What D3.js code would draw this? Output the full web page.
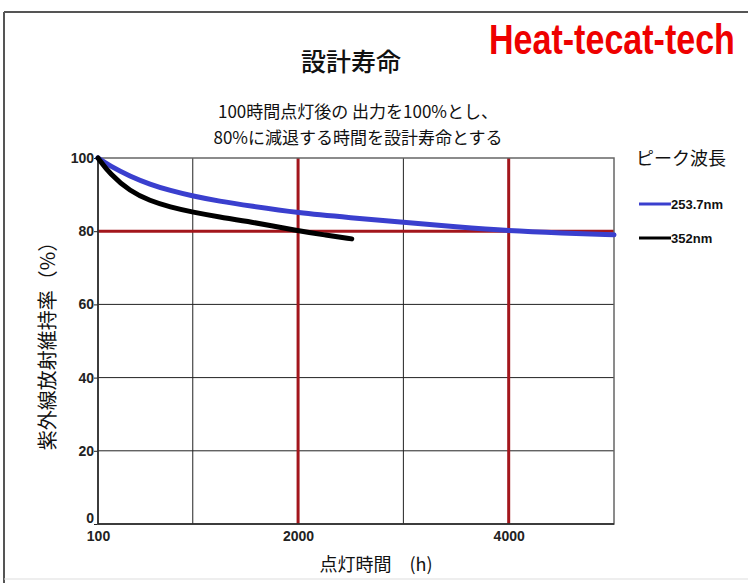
<!DOCTYPE html>
<html><head><meta charset="utf-8">
<script src="https://cdn.jsdelivr.net/npm/d3@7"></script>
<style>body{margin:0;background:#fff;}svg{display:block;}</style>
</head><body>
<svg id="c" width="748" height="583"></svg>
<script>
const hours253 = [100, 214, 404, 594, 784, 1000, 1250, 1543, 2000, 2500, 3000, 3500, 4000, 4500, 5000];
const values253 = [100, 97.8, 95.0, 92.8, 91.1, 89.6, 88.2, 86.9, 85.0, 83.7, 82.4, 81.2, 80.1, 79.5, 79.0];
const hours352 = [100, 214, 404, 594, 784, 1000, 1250, 1543, 2000, 2250, 2510];
const values352 = [100, 95.6, 90.9, 88.3, 86.6, 85.2, 83.9, 82.6, 80.1, 79.0, 77.9];
const seriesNames = ["253.7nm", "352nm"];
const xTicks = [100, 2000, 4000];
const xGrid = [1000, 2000, 3000, 4000];
const xRedGrid = [2000, 4000];
const yTicks = [0, 20, 40, 60, 80, 100];
const yRed = [80];

const svg = d3.select("#c");
const L = 98, R = 614, T = 158, B = 524;
const x = d3.scaleLinear().domain([100, 5000]).range([L, R]);
const y = d3.scaleLinear().domain([0, 100]).range([B, T]);
const jp = "'Noto Sans CJK JP', sans-serif";
const num = "'Liberation Sans', Arial, sans-serif";

// outer frame
svg.append("line").attr("x1",4).attr("x2",4).attr("y1",12).attr("y2",583).attr("stroke","#555").attr("stroke-width",2);
svg.append("line").attr("x1",4).attr("x2",748).attr("y1",12).attr("y2",12).attr("stroke","#555").attr("stroke-width",2);
svg.append("line").attr("x1",4).attr("x2",748).attr("y1",579).attr("y2",579).attr("stroke","#ddd").attr("stroke-width",1);

// logo (condensed via horizontal scale)
const logo = svg.append("text").attr("x",0).attr("y",0)
  .attr("font-family","'Liberation Sans', Arial, sans-serif").attr("font-weight","bold")
  .attr("font-size",42).attr("fill","#ee0000").text("Heat-tecat-tech");
const lw = logo.node().getComputedTextLength();
logo.attr("transform",`translate(489,54) scale(${246/lw},1)`);

// titles
svg.append("text").attr("x",351).attr("y",71).attr("text-anchor","middle").attr("font-family",jp)
  .attr("font-size",25).attr("font-weight",500).attr("fill","#111").text("設計寿命");
svg.append("text").attr("x",358).attr("y",118).attr("text-anchor","middle").attr("font-family",jp)
  .attr("font-size",17).attr("fill","#111").text("100時間点灯後の 出力を100%とし、");
svg.append("text").attr("x",358).attr("y",144).attr("text-anchor","middle").attr("font-family",jp)
  .attr("font-size",17).attr("fill","#111").text("80%に減退する時間を設計寿命とする");

// grid
const g = svg.append("g");
g.selectAll(".hg").data(yTicks.filter(v => v > 0 && v < 100 && !yRed.includes(v))).enter().append("line")
  .attr("x1",L).attr("x2",R).attr("y1",d=>y(d)).attr("y2",d=>y(d)).attr("stroke","#222").attr("stroke-width",1);
g.selectAll(".vg").data(xGrid.filter(v => !xRedGrid.includes(v))).enter().append("line")
  .attr("x1",d=>x(d)).attr("x2",d=>x(d)).attr("y1",T).attr("y2",B).attr("stroke","#222").attr("stroke-width",1);

// axes
const yAxis = d3.axisLeft(y).tickValues(yTicks).tickSize(4).tickFormat(d3.format("d"));
const ya = svg.append("g").attr("transform",`translate(${L},0)`).call(yAxis);
ya.select(".domain").remove();
ya.selectAll("line").attr("stroke","#222");
ya.selectAll("text").attr("font-family",num).attr("font-weight","bold").attr("font-size",14).attr("fill","#222").attr("x",-4);
ya.selectAll(".tick").filter(d=>d===0).select("text").attr("dy","-0.1em");

const xAxis = d3.axisBottom(x).tickValues(xTicks).tickSize(0).tickFormat(d3.format("d"));
const xa = svg.append("g").attr("transform",`translate(0,${B})`).call(xAxis);
xa.select(".domain").remove();
xa.selectAll("text").attr("font-family",num).attr("font-weight","bold").attr("font-size",14).attr("fill","#222").attr("dy","1.0em");

// red reference lines
svg.selectAll(".rv").data(xRedGrid).enter().append("line")
  .attr("x1",d=>x(d)).attr("x2",d=>x(d)).attr("y1",T).attr("y2",B).attr("stroke","#a3161c").attr("stroke-width",3);
svg.selectAll(".rh").data(yRed).enter().append("line")
  .attr("x1",L).attr("x2",R).attr("y1",d=>y(d)).attr("y2",d=>y(d)).attr("stroke","#a3161c").attr("stroke-width",3);

// plot border
svg.append("rect").attr("x",L).attr("y",T).attr("width",R-L).attr("height",B-T)
  .attr("fill","none").attr("stroke","#666").attr("stroke-width",1.5);
svg.append("line").attr("x1",L).attr("x2",L).attr("y1",T).attr("y2",B).attr("stroke","#222").attr("stroke-width",1.5);
svg.append("line").attr("x1",L).attr("x2",R).attr("y1",B).attr("y2",B).attr("stroke","#222").attr("stroke-width",1.5);

// curves
const line = d3.line().x(d=>x(d[0])).y(d=>y(d[1])).curve(d3.curveBasis);
const s1 = hours253.map((h,i)=>[h, values253[i]]);
const s2 = hours352.map((h,i)=>[h, values352[i]]);
svg.append("path").attr("d",line(s1)).attr("fill","none").attr("stroke","#3a3fce").attr("stroke-width",5).attr("stroke-linecap","round");
svg.append("path").attr("d",line(s2)).attr("fill","none").attr("stroke","#000").attr("stroke-width",5).attr("stroke-linecap","round");

// axis titles
svg.append("text").attr("transform",`translate(55,341) rotate(-90)`).attr("text-anchor","middle")
  .attr("font-family",jp).attr("font-size",20).attr("fill","#111").text("紫外線放射維持率（%）");
svg.append("text").attr("x",376).attr("y",571).attr("text-anchor","middle")
  .attr("font-family",jp).attr("font-size",18).attr("fill","#111").text("点灯時間　(h)");

// legend
svg.append("text").attr("x",636).attr("y",165).attr("font-family",jp).attr("font-size",18).attr("fill","#111").text("ピーク波長");
const colors = ["#3a3fce", "#000"];
seriesNames.forEach((n,i)=>{
  const yy = 204 + i*34;
  svg.append("line").attr("x1",639).attr("x2",671).attr("y1",yy).attr("y2",yy).attr("stroke",colors[i]).attr("stroke-width",3);
  svg.append("text").attr("x",671).attr("y",yy+5).attr("font-family",num).attr("font-weight","bold")
    .attr("font-size",13).attr("fill","#111").text(n);
});
</script>
</body></html>
